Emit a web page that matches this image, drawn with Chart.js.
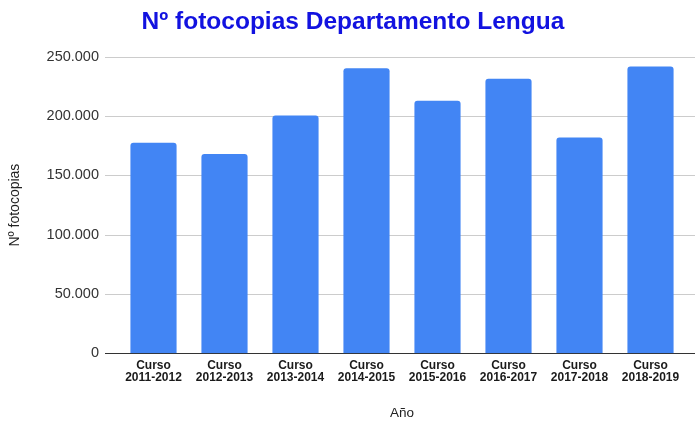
<!DOCTYPE html>
<html>
<head>
<meta charset="utf-8">
<script src="https://cdn.jsdelivr.net/npm/chart.js@4"></script>
<style>
  body { margin: 0; background: #fff; }
  #wrap { width: 695px; height: 421px; }
</style>
</head>
<body>
<div id="wrap"><canvas id="myChart"></canvas></div>
<script>
const cursos = ['2011-2012', '2012-2013', '2013-2014', '2014-2015', '2015-2016', '2016-2017', '2017-2018', '2018-2019'];
const fotocopias = [177500, 168000, 200500, 240500, 213000, 231500, 182000, 242000];
const ejeY = [0, 50000, 100000, 150000, 200000, 250000];

// 250000 -> "250.000"
function miles(v)
{
  return String(v).replace(/\B(?=(\d{3})+(?!\d))/g, '.');
}

// horizontal lines go a bit past the plot area, like the original
const lineasFondo = {
  id: 'lineasFondo',
  beforeDatasetsDraw(chart)
  {
    const c = chart.ctx;
    const y = chart.scales.y;
    c.save();
    c.lineWidth = 1;
    for (const t of y.ticks)
    {
      const py = Math.round(y.getPixelForValue(t.value)) + 0.5;
      c.strokeStyle = t.value === 0 ? '#333333' : '#cccccc';
      c.beginPath();
      c.moveTo(105, py);
      c.lineTo(chart.width, py);
      c.stroke();
    }
    c.restore();
  }
};

var ctx = document.getElementById('myChart').getContext('2d');
chart = new Chart(ctx, {
  type: 'bar',
  data: {
    labels: cursos.map(c => ['Curso', c]),
    datasets: [
      {
        label: 'Nº fotocopias',
        data: fotocopias,
        backgroundColor: '#4285F4',
        borderRadius: 3,
        barPercentage: 0.65,
        categoryPercentage: 1
      }
    ]
  },
  options: {
    responsive: true,
    maintainAspectRatio: false,
    animation: false,
    layout: { padding: { left: 11 } },
    plugins: {
      legend: { display: false },
      tooltip: { enabled: false },
      title: {
        display: true,
        text: 'Nº fotocopias Departamento Lengua',
        color: '#1212e0',
        font: { family: 'Liberation Sans', size: 24.5, weight: 'bold' },
        padding: { top: 7.5, bottom: 20 }
      }
    },
    scales: {
      x: {
        grid: { display: false, drawTicks: false },
        border: { display: false },
        ticks: {
          color: '#1a1a1a',
          padding: 6.5,
          maxRotation: 0,
          autoSkip: false,
          font: { family: 'Liberation Sans', size: 12, weight: 'bold', lineHeight: 1 }
        },
        title: {
          display: true,
          text: 'Año',
          color: '#222222',
          font: { family: 'Liberation Sans', size: 13.5 },
          padding: { top: 14.5, bottom: 0 }
        }
      },
      y: {
        min: 0,
        max: 250000,
        afterBuildTicks(scale)
        {
          scale.ticks = ejeY.map(v => ({ value: v }));
        },
        afterFit(scale)
        {
          scale.width = 107;
        },
        grid: { display: false, drawTicks: false },
        border: { display: false },
        ticks: {
          color: '#333333',
          padding: 19,
          font: { family: 'Liberation Sans', size: 14.5 },
          callback: v => miles(v)
        },
        title: {
          display: true,
          text: 'Nº fotocopias',
          color: '#222222',
          font: { family: 'Liberation Sans', size: 14 },
          padding: { top: -4.4, bottom: 0 }
        }
      },
      // empty strip on the right so the bars stop short of the edge
      derecha: {
        position: 'right',
        display: true,
        afterFit(scale)
        {
          scale.width = 9;
        },
        grid: { display: false, drawTicks: false },
        border: { display: false },
        ticks: { display: false }
      }
    }
  },
  plugins: [lineasFondo]
});
</script>
</body>
</html>
